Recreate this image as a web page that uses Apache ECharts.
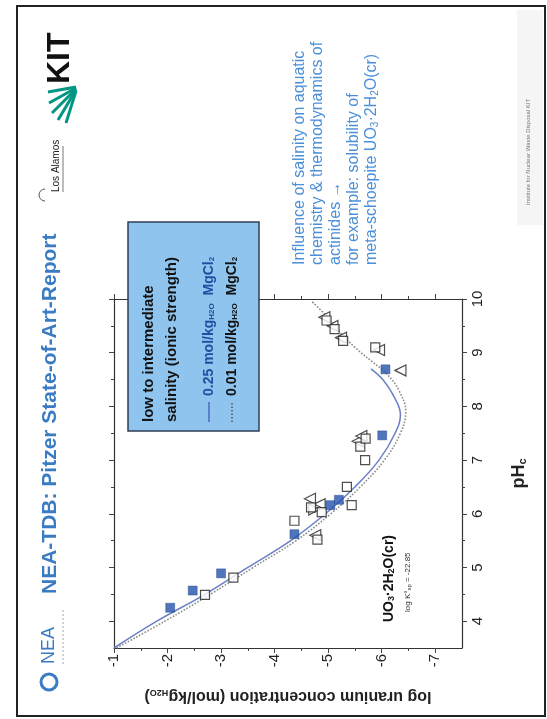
<!DOCTYPE html>
<html><head><meta charset="utf-8">
<script src="https://cdn.jsdelivr.net/npm/echarts@6/dist/echarts.min.js"></script>
<style>html,body{margin:0;padding:0;background:#fff}#c{width:547px;height:719px}</style>
</head><body><div id="c"></div>
<script>
// ---- axis ticks ----
const logTicks = [-1, -2, -3, -4, -5, -6, -7];
const logMinor = [-1.5, -2.5, -3.5, -4.5, -5.5, -6.5];
const phTicks = [4, 5, 6, 7, 8, 9, 10];
const phMinor = [4.5, 5.5, 6.5, 7.5, 8.5, 9.5];

// ---- model curves (pH, log[U]) ----
const fit025pH  = [3.5, 4.0, 4.5, 5.0, 5.5, 6.0, 6.5, 7.0, 7.5, 7.85, 8.2, 8.5, 8.7];
const fit025Log = [-1.0, -1.8, -2.7, -3.5, -4.3, -4.95, -5.5, -5.95, -6.25, -6.35, -6.22, -6.02, -5.8];
const fit001pH  = [3.5, 4.0, 4.5, 5.0, 5.5, 6.0, 6.5, 7.0, 7.5, 7.9, 8.3, 8.6, 8.85, 9.1, 9.4, 9.7, 9.95];
const fit001Log = [-1.05, -1.95, -2.8, -3.6, -4.4, -5.05, -5.6, -6.05, -6.35, -6.45, -6.32, -6.1, -5.8, -5.5, -5.2, -4.95, -4.7];

// ---- experimental data ----
const bluePH  = [4.25, 4.57, 4.89, 5.62, 6.16, 6.26, 7.46, 8.69];
const blueLog = [-2.05, -2.47, -3.0, -4.37, -5.04, -5.20, -6.01, -6.07];
const sqPH  = [4.49, 4.81, 5.87, 5.52, 6.12, 6.03, 6.50, 6.16, 7.00, 7.25, 7.40, 9.10, 9.60, 9.44, 9.22];
const sqLog = [-2.70, -3.23, -4.37, -4.80, -4.68, -4.88, -5.35, -5.44, -5.69, -5.60, -5.70, -5.88, -4.97, -5.12, -5.28];
const triPH  = [5.60, 6.28, 6.18, 7.35, 8.67, 9.05, 9.66, 9.50, 9.28, 7.45];
const triLog = [-4.76, -4.66, -4.84, -5.55, -6.35, -5.95, -4.93, -5.08, -5.24, -5.62];
const triDnPH  = [6.08];
const triDnLog = [-4.74];

const pairs = (logs, phs) => logs.map((v, i) => [v, phs[i]]);

const FONT = 'Liberation Sans, Arial, sans-serif';
const chart = echarts.init(document.getElementById('c'), null, {renderer: 'canvas'});

function vText(x, y, text, style, extra) {
  return Object.assign({
    type: 'text', x: x, y: y, rotation: Math.PI / 2, z: 100,
    style: Object.assign({text: text, textAlign: 'left', textVerticalAlign: 'middle', align: 'left', verticalAlign: 'middle', fontFamily: FONT}, style)
  }, extra || {});
}

const subRich = (size, color, weight) => ({ s: {fontSize: size, color: color, fontWeight: weight || 'normal', verticalAlign: 'bottom', fontFamily: FONT} });

const tickAxisX = (pos, vals, len, line) => ({
  type: 'value', min: -7.5, max: -1, inverse: true, position: pos, gridIndex: 0,
  axisLine: {show: line, onZero: false, lineStyle: {color: '#333', width: 1.2}},
  axisTick: {show: true, customValues: vals, length: len, lineStyle: {color: '#444'}},
  axisLabel: {show: false}, splitLine: {show: false}
});
const tickAxisY = (pos, vals, len, line) => ({
  type: 'value', min: 3.5, max: 10, position: pos, gridIndex: 0,
  axisLine: {show: line, onZero: false, lineStyle: {color: '#333', width: 1.2}},
  axisTick: {show: true, customValues: vals, length: len, lineStyle: {color: '#444'}},
  axisLabel: {show: false}, splitLine: {show: false}
});

const mainX = tickAxisX('bottom', logTicks, 5, true);
mainX.axisLabel = {show: true, customValues: logTicks, rotate: 90, fontSize: 15, color: '#222', margin: 6, fontFamily: FONT};
mainX.name = 'log uranium concentration (mol/kg{s|H2O})';
mainX.nameLocation = 'middle';
mainX.nameRotate = 180;
mainX.nameGap = 40;
mainX.nameTextStyle = {fontSize: 16, fontWeight: 'bold', color: '#222', fontFamily: FONT, rich: subRich(9, '#222', 'bold')};

const mainY = tickAxisY('right', phTicks, 5, true);
mainY.axisLabel = {show: true, customValues: phTicks, rotate: 90, fontSize: 15, color: '#222', margin: 8, fontFamily: FONT};
mainY.name = 'pH{s|c}';
mainY.nameLocation = 'middle';
mainY.nameRotate = 90;
mainY.nameGap = 48;
mainY.nameTextStyle = {fontSize: 18, fontWeight: 'bold', color: '#222', fontFamily: FONT, rich: subRich(11, '#222', 'bold')};

const option = {
  backgroundColor: '#fff',
  animation: false,
  grid: {left: 114, right: 85, top: 299, bottom: 71, show: false},
  xAxis: [mainX, tickAxisX('bottom', logMinor, 3, false), tickAxisX('top', logTicks, 5, true), tickAxisX('top', logMinor, 3, false)],
  yAxis: [mainY, tickAxisY('right', phMinor, 3, false), tickAxisY('left', phTicks, 5, true), tickAxisY('left', phMinor, 3, false)],
  series: [
    {type: 'line', name: '0.01', data: pairs(fit001Log, fit001pH), smooth: 0.4, showSymbol: false, z: 2,
     lineStyle: {color: '#8c8c8c', width: 1.6, type: 'dotted'}},
    {type: 'line', name: '0.25', data: pairs(fit025Log, fit025pH), smooth: 0.4, showSymbol: false, z: 3,
     lineStyle: {color: '#6a7fc8', width: 1.5}},
    {type: 'scatter', data: pairs(triLog, triPH), symbol: 'triangle', symbolRotate: 90, symbolSize: 11, z: 4,
     itemStyle: {color: '#fff', borderColor: '#222', borderWidth: 1.2}},
    {type: 'scatter', data: pairs(triDnLog, triDnPH), symbol: 'triangle', symbolRotate: -90, symbolSize: 11, z: 4,
     itemStyle: {color: '#fff', borderColor: '#222', borderWidth: 1.2}},
    {type: 'scatter', data: pairs(sqLog, sqPH), symbol: 'rect', symbolSize: 9, z: 5,
     itemStyle: {color: '#fff', borderColor: '#222', borderWidth: 1.2}},
    {type: 'scatter', data: pairs(blueLog, bluePH), symbol: 'rect', symbolSize: 9, z: 6,
     itemStyle: {color: '#2452ad', borderColor: '#1c3f8a', borderWidth: 0.5}}
  ],
  graphic: {elements: [
    // slide frame
    {type: 'rect', shape: {x: 17, y: 6, width: 528, height: 710}, style: {fill: 'none', stroke: '#222', lineWidth: 2}, z: 0},
    {type: 'rect', shape: {x: 517, y: 10, width: 26, height: 215}, style: {fill: '#f5f5f5'}, z: 0},
    // title
    vText(50, 594, 'NEA-TDB: Pitzer State-of-Art-Report', {fontSize: 21, fontWeight: 'bold', fill: '#3a7cc4'}),
    // NEA logo
    {type: 'circle', shape: {cx: 49, cy: 682, r: 8}, style: {fill: 'none', stroke: '#3a7cc4', lineWidth: 3}, z: 100},
    vText(49, 664, 'NEA', {fontSize: 18, fill: '#3a7cc4'}),
    {type: 'line', shape: {x1: 63, y1: 664, x2: 63, y2: 608}, style: {stroke: '#aaa', lineWidth: 1, lineDash: [2, 2]}, z: 100},
    // Los Alamos logo
    {type: 'arc', shape: {cx: 45, cy: 195, r: 6, startAngle: Math.PI / 2, endAngle: Math.PI * 1.5}, style: {fill: 'none', stroke: '#555', lineWidth: 1}, z: 100},
    vText(56, 192, 'Los Alamos', {fontSize: 10, fill: '#222'}),
    {type: 'line', shape: {x1: 63, y1: 192, x2: 63, y2: 146}, style: {stroke: '#555', lineWidth: 0.8}, z: 100},
    // KIT logo
    vText(60, 84, 'KIT', {fontSize: 32, fontWeight: 'bold', fill: '#111'}),
    {type: 'line', shape: {x1: 76, y1: 87, x2: 48, y2: 92}, style: {stroke: '#009682', lineWidth: 3}, z: 100},
    {type: 'line', shape: {x1: 76, y1: 88, x2: 49, y2: 103}, style: {stroke: '#009682', lineWidth: 3}, z: 100},
    {type: 'line', shape: {x1: 76, y1: 89, x2: 52, y2: 113}, style: {stroke: '#009682', lineWidth: 3}, z: 100},
    {type: 'line', shape: {x1: 76, y1: 90, x2: 58, y2: 120}, style: {stroke: '#009682', lineWidth: 3}, z: 100},
    {type: 'line', shape: {x1: 76, y1: 91, x2: 66, y2: 123}, style: {stroke: '#009682', lineWidth: 3}, z: 100},
    // right-hand text
    vText(300, 265, '{r|Influence of salinity} on aquatic', {fontSize: 16, fill: '#4a8fd8', rich: {r: {fontSize: 16, color: '#e8706e', fontFamily: FONT}}}),
    vText(318, 265, 'chemistry & thermodynamics of', {fontSize: 16, fill: '#4a8fd8'}),
    vText(336, 265, 'actinides \u2192', {fontSize: 16, fill: '#4a8fd8'}),
    vText(354, 265, 'for example: solubility of', {fontSize: 16, fill: '#4a8fd8'}),
    vText(372, 265, 'meta-schoepite UO{s|3}\u00b72H{s|2}O(cr)', {fontSize: 16, fill: '#4a8fd8', rich: subRich(10, '#4a8fd8')}),
    // footer
    vText(528, 205, 'Institute for Nuclear Waste Disposal KIT', {fontSize: 6, fill: '#777'}),
    // legend box
    {type: 'rect', shape: {x: 128, y: 222, width: 131, height: 209}, style: {fill: '#8ec4ee', stroke: '#2f3f55', lineWidth: 1.5}, z: 99},
    vText(149, 422, 'low to intermediate', {fontSize: 15, fontWeight: 'bold', fill: '#111'}),
    vText(172, 422, 'salinity (ionic strength)', {fontSize: 15, fontWeight: 'bold', fill: '#111'}),
    {type: 'line', shape: {x1: 209, y1: 422, x2: 209, y2: 402}, style: {stroke: '#4a68c0', lineWidth: 1.5}, z: 100},
    vText(209, 396, '0.25 mol/kg{s|H2O}  MgCl{s|2}', {fontSize: 14, fontWeight: 'bold', fill: '#1f4fa0', rich: subRich(8, '#1f4fa0', 'bold')}),
    {type: 'line', shape: {x1: 232, y1: 422, x2: 232, y2: 402}, style: {stroke: '#555', lineWidth: 1.5, lineDash: [1.5, 2]}, z: 100},
    vText(232, 396, '0.01 mol/kg{s|H2O}  MgCl{s|2}', {fontSize: 14, fontWeight: 'bold', fill: '#111', rich: subRich(8, '#111', 'bold')}),
    // in-plot annotation
    vText(389, 622, 'UO{s|3}\u00b72H{s|2}O(cr)', {fontSize: 14, fontWeight: 'bold', fill: '#111', rich: subRich(9, '#111', 'bold')}),
    vText(408, 612, 'log K\u00b0{s|sp} = -22.85', {fontSize: 8, fill: '#333', rich: subRich(6, '#333')})
  ]}
};
chart.setOption(option);
</script>
</body></html>
